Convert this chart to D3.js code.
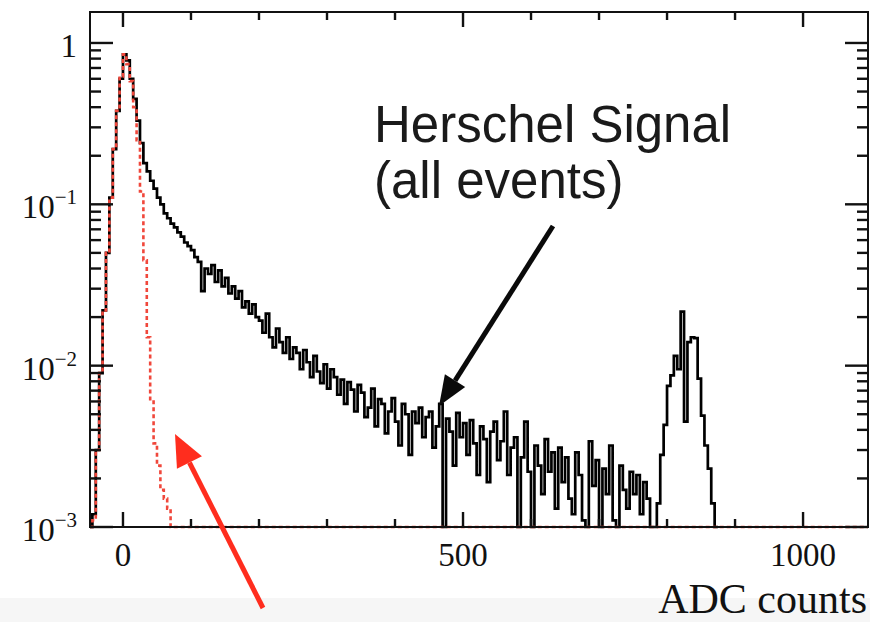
<!DOCTYPE html>
<html>
<head>
<meta charset="utf-8">
<script src="https://cdn.jsdelivr.net/npm/d3@7"></script>
<style>
  body { margin: 0; background: #fff; }
  svg { display: block; }
</style>
</head>
<body>
<div id="chart"></div>
<script>
// histogram binning (ADC counts)
const binWidth = 5;
const firstEdge = -50;

// Herschel signal, all events (normalised), one value per 5-count bin from -50
const signalCounts = [
  0, 0.0012, 0.003, 0.009, 0.022, 0.05, 0.11, 0.22, 0.38, 0.6,
  0.85, 0.78, 0.6, 0.45, 0.33, 0.24, 0.18, 0.16, 0.14, 0.125,
  0.11, 0.1, 0.088, 0.082, 0.076, 0.072, 0.067, 0.063, 0.058, 0.055,
  0.052, 0.047, 0.044, 0.029, 0.04, 0.037, 0.042, 0.033, 0.039, 0.031,
  0.035, 0.028, 0.031, 0.026, 0.029, 0.023, 0.025, 0.021, 0.024, 0.02,
  0.019, 0.016, 0.021, 0.015, 0.013, 0.017, 0.014, 0.012, 0.015, 0.011,
  0.013, 0.012, 0.0095, 0.0125, 0.0105, 0.0085, 0.0115, 0.0092, 0.0078, 0.0102,
  0.0072, 0.0095, 0.0085, 0.0066, 0.0082, 0.0058, 0.0079, 0.0071, 0.0052, 0.0076,
  0.0068, 0.0048, 0.0055, 0.0072, 0.0042, 0.0062, 0.0058, 0.0038, 0.0052, 0.0063,
  0.0045, 0.0032, 0.0058, 0.005, 0.0028, 0.0052, 0.0044, 0.0055, 0.0036, 0.0048,
  0.0052, 0.0031, 0.0042, 0.0058, 0, 0.0047, 0.0039, 0.0024, 0.0051, 0.0036,
  0.0044, 0.0028, 0.0046, 0.0033, 0.0021, 0.0042, 0.0035, 0.0019, 0.0039, 0.0045,
  0.0026, 0.0034, 0.0052, 0.0021, 0.0031, 0.0036, 0, 0.0027, 0.0045, 0.0022,
  0, 0.0032, 0.0024, 0.0016, 0.0035, 0.0022, 0.0029, 0.0013, 0.0031, 0.0019,
  0.0027, 0.0015, 0.0012, 0.0029, 0.0021, 0.0011, 0, 0.0034, 0.0018, 0.0026,
  0, 0.0023, 0.0016, 0.0032, 0.0011, 0, 0.0024, 0.0017, 0.0013, 0.0022,
  0.0016, 0.0021, 0.0012, 0.0019, 0.0015, 0, 0, 0.0014, 0.0028, 0.0043,
  0.0075, 0.0087, 0.0115, 0.0095, 0.0216, 0.0045, 0.014, 0.015, 0.0148, 0.0083,
  0.0049, 0.0032, 0.0023, 0.0014, 0
];

// pedestal (red dashed), same binning
const pedestalCounts = [
  0, 0.0011, 0.003, 0.009, 0.022, 0.05, 0.11, 0.22, 0.38, 0.62,
  0.85, 0.74, 0.58, 0.4, 0.25, 0.12, 0.045, 0.015, 0.006, 0.0033,
  0.0024, 0.0017, 0.0015, 0.0013, 0.001, 0
];

const xMajorTicks = [0, 500, 1000];
const xMinorTicks = [100, 200, 300, 400, 600, 700, 800, 900];
const yMajorTicks = [1e-3, 1e-2, 1e-1, 1];
const yTickLabels = [["10", "\u22123"], ["10", "\u22122"], ["10", "\u22121"], ["1", ""]];

const width = 870, height = 622;
const frame = { left: 90, right: 868, top: 12, bottom: 527 };
const xDomain = [-48.5, 1095.5];
const yDomain = [1e-3, 1.556];
const serif = "'Liberation Serif', 'DejaVu Serif', serif";
const sans = "'Liberation Sans', Arial, sans-serif";

const svg = d3.select("#chart").append("svg")
  .attr("width", width)
  .attr("height", height);

// faint grey strip along the bottom edge of the screenshot
svg.append("rect")
  .attr("x", 0).attr("y", 598)
  .attr("width", width).attr("height", height - 598)
  .attr("fill", "#f6f6f6");

const x = d3.scaleLinear().domain(xDomain).range([frame.left, frame.right]);
const y = d3.scaleLog().domain(yDomain).range([frame.bottom, frame.top]);
const yFloor = yDomain[0];

function histPoints(counts, extendTo) {
  var pts = counts.map((v, i) => ({ edge: firstEdge + i * binWidth, v: v }));
  var last = counts[counts.length - 1];
  pts.push({ edge: firstEdge + counts.length * binWidth, v: last });
  if (extendTo != null) pts.push({ edge: extendTo, v: last });
  return pts.filter(p => p.edge >= xDomain[0] - binWidth).map(p => ({ edge: Math.max(p.edge, xDomain[0]), v: p.v }));
}

const line = d3.line()
  .x(d => x(d.edge))
  .y(d => y(Math.max(d.v, yFloor)))
  .curve(d3.curveStepAfter);

const plot = svg.append("g");

plot.append("path")
  .datum(histPoints(signalCounts, null))
  .attr("fill", "none")
  .attr("stroke", "#000")
  .attr("stroke-width", 2.7)
  .attr("d", line);

plot.append("path")
  .datum(histPoints(pedestalCounts, xDomain[1]))
  .attr("fill", "none")
  .attr("stroke", "#f0473b")
  .attr("stroke-width", 2.6)
  .attr("stroke-dasharray", "4,3")
  .attr("d", line);

// frame
svg.append("rect")
  .attr("x", frame.left).attr("y", frame.top)
  .attr("width", frame.right - frame.left)
  .attr("height", frame.bottom - frame.top)
  .attr("fill", "none")
  .attr("stroke", "#111")
  .attr("stroke-width", 2);

const ticks = svg.append("g").attr("stroke", "#111").attr("stroke-width", 2.4);

// x ticks, bottom and top
xMajorTicks.concat(xMinorTicks).forEach(function(t) {
  var len = xMajorTicks.indexOf(t) >= 0 ? 15 : 8;
  ticks.append("line").attr("x1", x(t)).attr("x2", x(t))
    .attr("y1", frame.bottom).attr("y2", frame.bottom - len);
  ticks.append("line").attr("x1", x(t)).attr("x2", x(t))
    .attr("y1", frame.top).attr("y2", frame.top + len);
});

// y ticks, left and right
var yMinor = [];
[1e-3, 1e-2, 1e-1].forEach(d => { for (var k = 2; k <= 9; ++k) yMinor.push(k * d); });
yMajorTicks.concat(yMinor).forEach(function(t) {
  var len = yMajorTicks.indexOf(t) >= 0 ? 23 : 11;
  ticks.append("line").attr("x1", frame.left).attr("x2", frame.left + len)
    .attr("y1", y(t)).attr("y2", y(t));
  ticks.append("line").attr("x1", frame.right).attr("x2", frame.right - len)
    .attr("y1", y(t)).attr("y2", y(t));
});

// tick labels
svg.append("g").selectAll("text")
  .data(xMajorTicks)
  .join("text")
  .attr("x", d => x(d))
  .attr("y", 566)
  .attr("text-anchor", "middle")
  .style("font", "33px " + serif)
  .attr("fill", "#111")
  .text(d => d);

const yLab = svg.append("g").selectAll("text")
  .data(yMajorTicks)
  .join("text")
  .attr("x", 77)
  .attr("y", d => y(d) + 14)
  .attr("text-anchor", "end")
  .style("font", "33px " + serif)
  .attr("fill", "#111");
yLab.append("tspan").text((d, i) => yTickLabels[i][0]);
yLab.append("tspan")
  .attr("dy", -14)
  .style("font-size", "21px")
  .text((d, i) => yTickLabels[i][1]);

svg.append("text")
  .attr("x", 867)
  .attr("y", 613)
  .attr("text-anchor", "end")
  .style("font", "42px " + serif)
  .attr("fill", "#111")
  .text("ADC counts");

// annotation
const note = svg.append("text")
  .style("font", "51px " + sans)
  .attr("fill", "#1a1a1a");
note.append("tspan").attr("x", 374).attr("y", 142).text("Herschel Signal");
note.append("tspan").attr("x", 374).attr("y", 198).text("(all events)");

function arrow(x1, y1, x2, y2, color, w, headLen, headW) {
  var ang = Math.atan2(y2 - y1, x2 - x1);
  var bx = x2 - headLen * Math.cos(ang), by = y2 - headLen * Math.sin(ang);
  svg.append("line")
    .attr("x1", x1).attr("y1", y1).attr("x2", bx).attr("y2", by)
    .attr("stroke", color).attr("stroke-width", w);
  var px = -Math.sin(ang) * headW / 2, py = Math.cos(ang) * headW / 2;
  svg.append("polygon")
    .attr("points", [[x2, y2], [bx + px, by + py], [bx - px, by - py]].map(p => p.join(",")).join(" "))
    .attr("fill", color);
}

arrow(553, 226, 439, 406, "#0a0a0a", 5, 30, 24);
arrow(263, 608, 175, 434, "#ff2d1e", 5, 32, 28);
</script>
</body>
</html>
